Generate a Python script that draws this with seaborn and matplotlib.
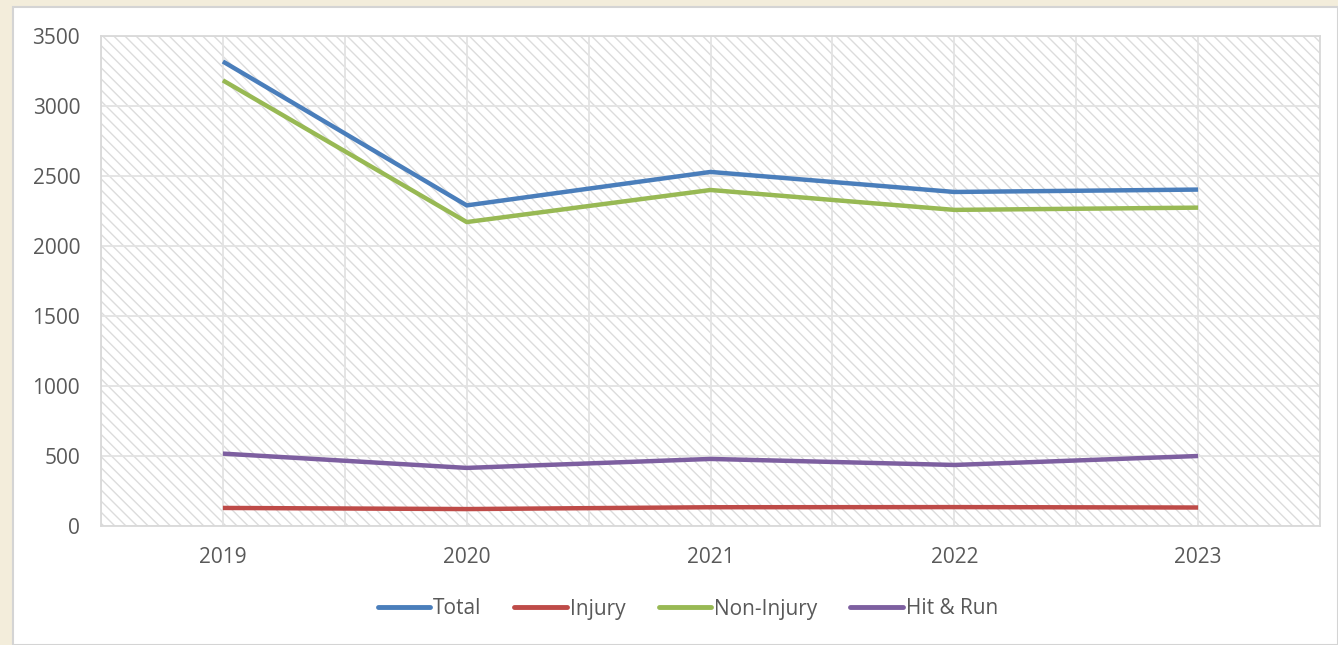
import matplotlib.pyplot as plt
import matplotlib.patches as mpatches
import numpy as np
import pandas as pd
import seaborn as sns

# Datos
years = ["2019", "2020", "2021", "2022", "2023"]
total = [3318, 2290, 2529, 2386, 2403]
injury = [129, 121, 134, 135, 132]
non_injury = [3183, 2171, 2400, 2258, 2274]
hit_and_run = [517, 415, 479, 436, 500]

series_names = ["Total", "Injury", "Non-Injury", "Hit & Run"]
series_colors = ["#4a7ebb", "#be4b48", "#98b954", "#7d5fa0"]

df = pd.DataFrame({"Year": years, "Total": total, "Injury": injury,
                   "Non-Injury": non_injury, "Hit & Run": hit_and_run})
df["x"] = np.arange(len(years))
long_df = df.melt(id_vars=["Year", "x"], value_vars=series_names,
                  var_name="Serie", value_name="Valor")

sns.set_theme(style="white")
plt.rcParams["font.family"] = ["Open Sans", "DejaVu Sans"]

fig = plt.figure(figsize=(13.38, 6.45), dpi=100)
fig.patch.set_facecolor("#f3eddb")

# panel blanco del gráfico
panel = mpatches.Rectangle((13 / 1338, 0), 1 - 13 / 1338, 1 - 7 / 645,
                           transform=fig.transFigure, facecolor="white",
                           edgecolor="#d4d4d4", linewidth=1.5, zorder=-10)
fig.patches.append(panel)

ax = fig.add_axes([101 / 1338, 1 - 526 / 645, (1320 - 101) / 1338, (526 - 36) / 645])
ax.set_facecolor("white")

# fondo rayado
plt.rcParams["hatch.linewidth"] = 1.0
hatch_bg = mpatches.Rectangle((0, 0), 1, 1, transform=ax.transAxes,
                              facecolor="white", edgecolor="#dcdcdc",
                              hatch="\\\\\\", linewidth=0, zorder=0)
ax.add_patch(hatch_bg)

sns.lineplot(data=long_df, x="x", y="Valor", hue="Serie", hue_order=series_names,
             palette=series_colors, linewidth=3.2, ax=ax, legend=False,
             sort=False, zorder=3)
for ln in ax.get_lines():
    ln.set_solid_capstyle("butt")

ax.set_xlim(-0.5, len(years) - 0.5)
ax.set_ylim(0, 3500)
ax.set_yticks(np.arange(0, 3501, 500))
ax.set_xticks(df["x"])
ax.set_xticklabels(years)
ax.set_xticks(np.arange(-0.5, len(years), 1), minor=True)
ax.set_xlabel("")
ax.set_ylabel("")

ax.grid(True, which="both", axis="x", color="#e3e3e3", linewidth=1.3, zorder=1)
ax.grid(True, which="major", axis="y", color="#e3e3e3", linewidth=1.3, zorder=1)
ax.set_axisbelow(True)
for sp in ax.spines.values():
    sp.set_color("#d9d9d9")
    sp.set_linewidth(1.3)

ax.tick_params(axis="both", which="both", length=0, labelsize=15,
               labelcolor="#595959")
ax.tick_params(axis="x", pad=15)
ax.tick_params(axis="y", pad=15)

handles = [plt.Line2D([0], [0], color=c, linewidth=3.5) for c in series_colors]
fig.legend(handles, series_names, loc="center", bbox_to_anchor=(0.514, 1 - 609 / 645),
           ncol=4, frameon=False, fontsize=15, labelcolor="#595959",
           handlelength=2.5, handletextpad=0.15, columnspacing=1.6)

fig.savefig("out.png", dpi=100, facecolor=fig.get_facecolor())
